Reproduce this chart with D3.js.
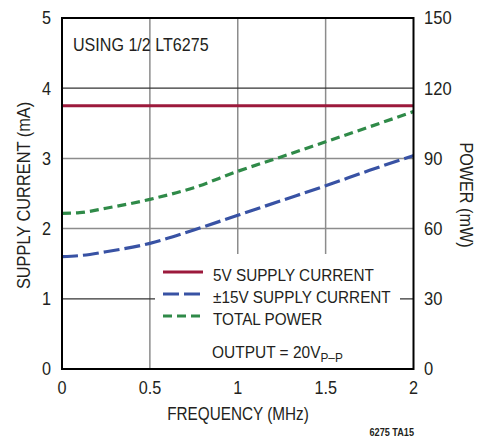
<!DOCTYPE html>
<html><head><meta charset="utf-8">
<script src="https://cdn.jsdelivr.net/npm/d3@7"></script>
<style>
html,body{margin:0;padding:0;background:#fff;}
svg{display:block;}
text{font-family:"Liberation Sans",Arial,Helvetica,sans-serif;fill:#231f20;}
</style></head>
<body>
<svg id="chart" width="477" height="438"></svg>
<script>
const freq = [0, 0.1, 0.25, 0.5, 0.75, 1, 1.25, 1.5, 1.75, 2];
const supply5V = [3.75, 3.75, 3.75, 3.75, 3.75, 3.75, 3.75, 3.75, 3.75, 3.75];
const supply15V = [1.60, 1.615, 1.67, 1.79, 1.98, 2.19, 2.40, 2.61, 2.83, 3.04];
const totalPower = [66.5, 66.8, 68.7, 72.5, 77.5, 84.5, 90.7, 97.1, 103.5, 110];
const xTicks = [0, 0.5, 1, 1.5, 2];
const xTickLabels = ["0", "0.5", "1", "1.5", "2"];
const yLeftTicks = [0, 1, 2, 3, 4, 5];
const yRightTicks = [0, 30, 60, 90, 120, 150];
const legendLabels = ["5V SUPPLY CURRENT", "±15V SUPPLY CURRENT", "TOTAL POWER"];

const svg = d3.select("#chart");
const L = 62, R = 413.5, T = 18, B = 369;
const x = d3.scaleLinear().domain([0, 2]).range([L, R]);
const yL = d3.scaleLinear().domain([0, 5]).range([B, T]);
const yR = d3.scaleLinear().domain([0, 150]).range([B, T]);

const colRed = "#9c1a3c", colBlue = "#3852a4", colGreen = "#2f8a48";

// condensed-looking text helper
function addText(px, py, str, o) {
  o = o || {};
  const g = svg.append("g").attr("transform",
    `translate(${px},${py}) rotate(${o.rot || 0}) scale(${o.sx || 0.9},1)`);
  const t = g.append("text").attr("x", 0).attr("y", 0)
    .attr("text-anchor", o.anchor || "start")
    .attr("font-size", o.size || 18);
  if (o.dy) t.attr("dy", o.dy);
  if (o.weight) t.attr("font-weight", o.weight);
  if (str !== null) t.text(str);
  return t;
}

// grid
const g = svg.append("g");
[0.5, 1, 1.5].forEach(v => {
  g.append("line").attr("x1", x(v)).attr("x2", x(v)).attr("y1", T).attr("y2", B)
    .attr("stroke", "#8c8c8c").attr("stroke-width", 1.5);
});
[1, 2, 3, 4].forEach(v => {
  g.append("line").attr("x1", L).attr("x2", R).attr("y1", yL(v)).attr("y2", yL(v))
    .attr("stroke", (v === 4 || v === 1) ? "#333" : "#8c8c8c")
    .attr("stroke-width", (v === 4 || v === 1) ? 1.2 : 1.5);
});

// legend background box (blanks grid)
svg.append("rect").attr("x", 155).attr("y", 254).attr("width", 245).attr("height", 114).attr("fill", "#fff");

// lines
const pts = (arr, ys) => freq.map((f, i) => [x(f), ys(arr[i])]);
const line = d3.line().curve(d3.curveMonotoneX);
svg.append("path").attr("d", line(pts(supply5V, yL))).attr("fill", "none")
  .attr("stroke", colRed).attr("stroke-width", 3.2);
svg.append("path").attr("d", line(pts(totalPower, yR))).attr("fill", "none")
  .attr("stroke", colGreen).attr("stroke-width", 3.2).attr("stroke-dasharray", "9,5");
svg.append("path").attr("d", line(pts(supply15V, yL))).attr("fill", "none")
  .attr("stroke", colBlue).attr("stroke-width", 3.2).attr("stroke-dasharray", "16,5");

// frame
svg.append("rect").attr("x", L).attr("y", T).attr("width", R - L).attr("height", B - T)
  .attr("fill", "none").attr("stroke", "#000").attr("stroke-width", 2);

// tick labels
yLeftTicks.forEach(v => addText(51, yL(v), String(v), {anchor: "end", dy: "0.36em", sx: 0.9}));
yRightTicks.forEach(v => addText(424, yR(v), String(v), {anchor: "start", dy: "0.36em", sx: 0.92}));
xTicks.forEach((v, i) => addText(x(v), 394, xTickLabels[i], {anchor: "middle", sx: 0.9}));

// axis titles
addText(238, 420, "FREQUENCY (MHz)", {anchor: "middle", sx: 0.85});
addText(30, 195.5, "SUPPLY CURRENT (mA)", {anchor: "middle", rot: -90, sx: 0.91});
addText(460, 195, "POWER (mW)", {anchor: "middle", rot: 90, sx: 0.9});

// annotation
addText(73, 51, "USING 1/2 LT6275", {size: 18.5, sx: 0.87});

// legend
const legColors = [colRed, colBlue, colGreen];
const legDash = [null, "16,5", "9,5"];
const legY = [272, 294, 316];
legendLabels.forEach((lab, i) => {
  const ln = svg.append("line").attr("x1", 163).attr("x2", 203).attr("y1", legY[i]).attr("y2", legY[i])
    .attr("stroke", legColors[i]).attr("stroke-width", 3.2);
  if (legDash[i]) ln.attr("stroke-dasharray", legDash[i]);
  addText(213, legY[i] + 9, lab, {size: 17, sx: 0.9});
});
const out = addText(212, 358, null, {size: 17, sx: 0.91});
out.append("tspan").text("OUTPUT = 20V");
out.append("tspan").attr("font-size", 13).attr("dy", 4).text("P–P");

// figure id
addText(414, 436, "6275 TA15", {anchor: "end", size: 10.5, weight: "bold", sx: 0.87});
</script>
</body></html>
